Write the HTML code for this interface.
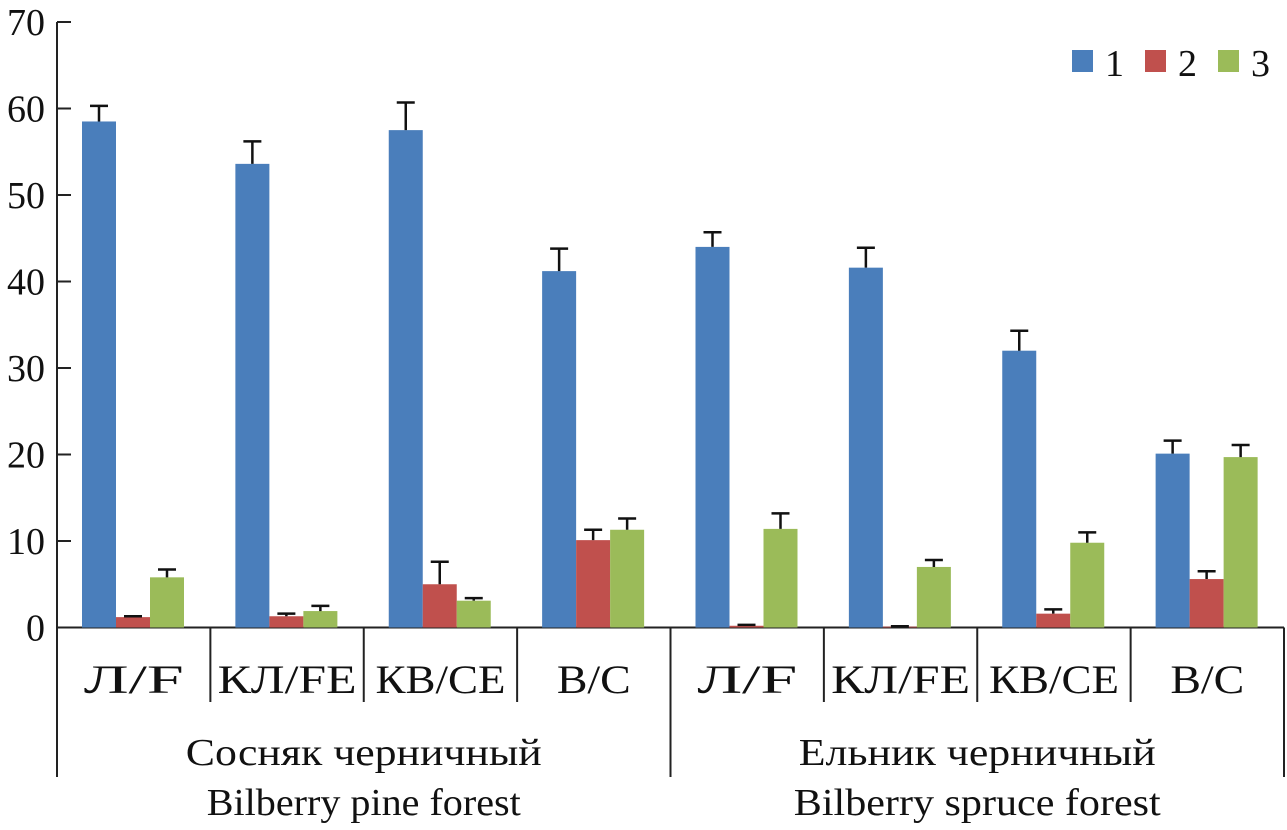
<!DOCTYPE html>
<html><head><meta charset="utf-8"><style>
html,body{margin:0;padding:0;background:#fff}
svg{display:block;font-family:"Liberation Serif",serif}
</style></head><body>
<svg id="chart" width="1287" height="830" viewBox="0 0 1287 830" xmlns="http://www.w3.org/2000/svg"></svg>
<script>
const categories=["Л/F","КЛ/FE","КВ/CE","В/C","Л/F","КЛ/FE","КВ/CE","В/C"];
const groups=["Сосняк черничный|Bilberry pine forest","Ельник черничный|Bilberry spruce forest"];
const series1=[58.5,53.6,57.5,41.2,44.0,41.6,32.0,20.1];
const err1=[1.8,2.6,3.2,2.6,1.7,2.3,2.3,1.5];
const series2=[1.2,1.3,5.0,10.1,0.2,0.1,1.6,5.6];
const err2=[0.1,0.3,2.6,1.2,0.1,0.05,0.5,0.9];
const series3=[5.8,1.9,3.1,11.3,11.4,7.0,9.8,19.7];
const err3=[0.9,0.6,0.3,1.3,1.8,0.8,1.2,1.4];
const yTicks=[0,10,20,30,40,50,60,70];
const legendLabels=["1","2","3"];
const colors=["#4a7ebb","#c0504d","#9bbb59"];
const NS="http://www.w3.org/2000/svg";
const svg=document.getElementById('chart');
const x0=57,x1=1284,y0=627.5,yTop=22;
const y=v=>y0-(y0-yTop)*v/70;
const catW=(x1-x0)/categories.length;
const barW=34;
const catLen={"Л/F":100,"КЛ/FE":139,"КВ/CE":130,"В/C":74};
const grpLen=[[356,314],[357,367]];
function mk(t,a,p){const e=document.createElementNS(NS,t);for(const k in a)e.setAttribute(k,a[k]);(p||svg).appendChild(e);return e;}
const ax=mk('line',{x1:x0,y1:yTop,x2:x0,y2:777,stroke:'#222','stroke-width':2});


const xa=mk('line',{x1:x0,y1:y0,x2:x1,y2:y0,stroke:'#222','stroke-width':2});


yTicks.forEach(t=>{
  const l=mk('line',{x1:x0,y1:y(t),x2:x0+14,y2:y(t),stroke:'#222','stroke-width':2});
  
  
  const tx=mk('text',{x:x0-12,y:y(t)+13,'text-anchor':'end','font-size':38,fill:'#111'});
  tx.textContent=t;
  
  
});
for(let i=1;i<=categories.length;i++){
  const xs=x0+i*catW;
  const big=(i===categories.length/2||i===categories.length);
  const l=mk('line',{x1:xs,y1:y0,x2:xs,y2:big?777:702,stroke:'#222','stroke-width':2});
  
  
}
categories.forEach((c,i)=>{
  const t=mk('text',{x:x0+(i+0.5)*catW,y:693,'text-anchor':'middle','font-size':40,fill:'#111',textLength:catLen[c]||100,lengthAdjust:'spacingAndGlyphs'});
  t.textContent=c;
  
  
});
groups.forEach((g,i)=>{
  const cx=x0+(i+0.5)*(x1-x0)/groups.length;
  const p=g.split('|');
  [p[0],p[1]].forEach((s,j)=>{
    const t=mk('text',{x:cx,y:765+j*50,'text-anchor':'middle','font-size':38,fill:'#111',textLength:grpLen[i][j],lengthAdjust:'spacingAndGlyphs'});
    t.textContent=s;
    
    
  });
});
const all=[series1,series2,series3],errs=[err1,err2,err3];
all.forEach((s,si)=>{
  s.forEach((v,i)=>{
    const bx=x0+i*catW+25+si*barW;
    const r=mk('rect',{x:bx,y:y(v),width:barW,height:y0-y(v),fill:colors[si]});
    
    
    const top=v+errs[si][i],cx=bx+barW/2;
    const e=mk('path',{d:`M${cx},${y(v)}V${y(top)}M${cx-9},${y(top)}H${cx+9}`,stroke:'#111','stroke-width':2.5,fill:'none'});
    
    
  });
});
const lx=[1072,1145,1218];
legendLabels.forEach((l,i)=>{
  const r=mk('rect',{x:lx[i],y:50,width:21,height:22,fill:colors[i]});
  
  
  const t=mk('text',{x:lx[i]+33,y:76,'font-size':38,fill:'#111'});
  t.textContent=l;
  
  
});
</script>
</body></html>
